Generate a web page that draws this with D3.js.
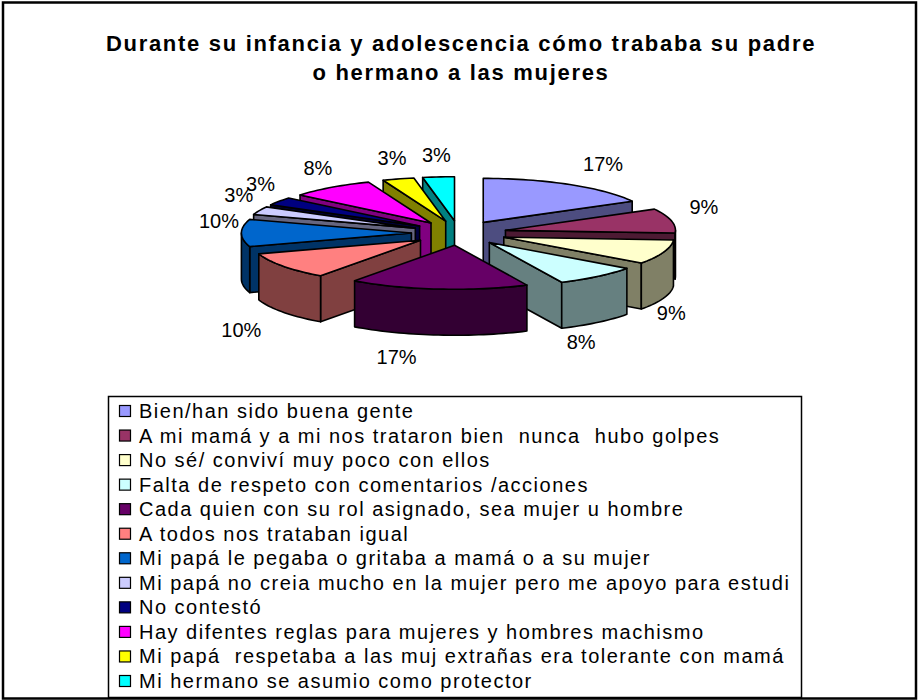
<!DOCTYPE html>
<html lang="es">
<head>
<meta charset="utf-8" />
<title>Durante su infancia y adolescencia</title>
<script src="https://d3js.org/d3.v7.min.js"></script>
<style>
  body { margin: 0; background: #fff; }
  text { font-family: "Liberation Sans", Arial, sans-serif; }
</style>
</head>
<body>
<script>
    // datos del grafico
    var categories = [
        "Bien/han sido buena gente",
        "A mi mamá y a mi nos trataron bien  nunca  hubo golpes",
        "No sé/ conviví muy poco con ellos",
        "Falta de respeto con comentarios /acciones",
        "Cada quien con su rol asignado, sea mujer u hombre",
        "A todos nos trataban igual",
        "Mi papá le pegaba o gritaba a mamá o a su mujer",
        "Mi papá no creia mucho en la mujer pero me apoyo para estudi",
        "No contestó",
        "Hay difentes reglas para mujeres y hombres machismo",
        "Mi papá  respetaba a las muj extrañas era tolerante con mamá",
        "Mi hermano se asumio como protector"
    ];
    var values = [17, 9, 9, 8, 17, 10, 10, 3, 3, 8, 3, 3];
    var colors = ["#9999FF", "#993366", "#FFFFCC", "#CCFFFF", "#660066", "#FF8080",
                  "#0066CC", "#CCCCFF", "#000080", "#FF00FF", "#FFFF00", "#00FFFF"];
    var titleLines = ["Durante su infancia y adolescencia cómo trababa su padre",
                      "o hermano a las mujeres"];

    var width = 918, height = 700;
    var svg = d3.select("body").append("svg")
        .attr("width", width)
        .attr("height", height);

    // marco exterior
    svg.append("rect")
        .attr("x", 3).attr("y", 2.5)
        .attr("width", 913).attr("height", 696)
        .attr("fill", "#fff").attr("stroke", "#000").attr("stroke-width", 2.5);

    // titulo
    svg.append("text")
        .attr("text-anchor", "middle")
        .attr("font-weight", "bold")
        .attr("font-size", 22)
        .attr("letter-spacing", 1.7)
        .selectAll("tspan")
        .data(titleLines)
        .enter().append("tspan")
        .attr("x", 461)
        .attr("y", function (d, i) { return 51 + i * 29; })
        .text(function (d) { return d; });

    //====== pastel 3D separado ======
    var cx = 459, cy = 233, rx = 170, ry = 44, depth = 46, explode = 0.28;

    var pie = d3.pie().sort(null).value(function (d) { return d; });
    var arcs = pie(values);
    arcs.forEach(function (a, i) {
        a.mid = (a.startAngle + a.endAngle) / 2;
        a.ox = cx + rx * explode * Math.sin(a.mid);
        a.oy = cy - ry * explode * Math.cos(a.mid);
        a.color = colors[i];
        var c = d3.rgb(colors[i]);
        a.side = d3.rgb(c.r * 0.5, c.g * 0.5, c.b * 0.5).toString();
    });

    function rim(a, ang, dy) {
        return [a.ox + rx * Math.sin(ang), a.oy - ry * Math.cos(ang) + (dy || 0)];
    }
    function arcPts(a, a0, a1, dy) {
        var n = Math.max(2, Math.ceil(Math.abs(a1 - a0) / 0.03));
        return d3.range(n + 1).map(function (k) { return rim(a, a0 + (a1 - a0) * k / n, dy); });
    }
    var line = d3.line().curve(d3.curveLinearClosed);

    var gPie = svg.append("g")
        .attr("stroke", "#000")
        .attr("stroke-width", 1.6)
        .attr("stroke-linejoin", "round");

    // de atras hacia adelante
    var order = arcs.slice().sort(function (a, b) { return Math.cos(b.mid) - Math.cos(a.mid); });

    order.forEach(function (a) {
        var g = gPie.append("g");
        var apex = [a.ox, a.oy], apexB = [a.ox, a.oy + depth];
        // cara radial inicial
        if (Math.sin(a.startAngle) < -1e-6) {
            g.append("path").attr("fill", a.side)
                .attr("d", line([apex, rim(a, a.startAngle), rim(a, a.startAngle, depth), apexB]));
        }
        // cara radial final
        if (Math.sin(a.endAngle) > 1e-6) {
            g.append("path").attr("fill", a.side)
                .attr("d", line([apex, rim(a, a.endAngle), rim(a, a.endAngle, depth), apexB]));
        }
        // pared exterior visible
        var b0 = Math.max(a.startAngle, Math.PI / 2), b1 = Math.min(a.endAngle, Math.PI * 1.5);
        if (b1 > b0) {
            var pts = arcPts(a, b0, b1, 0).concat(arcPts(a, b1, b0, depth));
            g.append("path").attr("fill", a.side).attr("d", line(pts));
        }
        // cara superior
        g.append("path").attr("fill", a.color)
            .attr("d", line([apex].concat(arcPts(a, a.startAngle, a.endAngle, 0))));
    });

    // etiquetas de porcentaje
    var Lx = 240, Ly = 66, Ld = 70;
    svg.append("g")
        .attr("font-size", 20)
        .attr("text-anchor", "middle")
        .selectAll("text")
        .data(arcs)
        .enter().append("text")
        .attr("x", function (a) {
            var s = Math.sin(a.mid), c = Math.cos(a.mid);
            return cx + Lx * s + 50 * Math.max(0, s) * Math.max(0, c) + 40 * Math.min(0, c);
        })
        .attr("y", function (a) {
            var c = Math.cos(a.mid);
            var front = Math.max(0, Math.min(1, -c * 3));
            return cy - 5 - Ly * c + Ld * front;
        })
        .text(function (a) { return a.data + "%"; });

    //====== leyenda ======
    var legend = svg.append("g");
    legend.append("rect")
        .attr("x", 108.5).attr("y", 396.5)
        .attr("width", 693).attr("height", 301)
        .attr("fill", "#fff").attr("stroke", "#000").attr("stroke-width", 1.5);

    var rowY = d3.scaleLinear().domain([0, categories.length - 1]).range([411, 681]);
    var items = legend.selectAll("g.item")
        .data(categories)
        .enter().append("g")
        .attr("class", "item")
        .attr("transform", function (d, i) { return "translate(0," + rowY(i) + ")"; });

    items.append("rect")
        .attr("x", 119.5).attr("y", -5.5)
        .attr("width", 11).attr("height", 11)
        .attr("fill", function (d, i) { return colors[i]; })
        .attr("stroke", "#000").attr("stroke-width", 1.2);

    items.append("text")
        .attr("x", 139).attr("y", 7)
        .attr("font-size", 20)
        .attr("letter-spacing", 1.5)
        .style("white-space", "pre")
        .text(function (d) { return d; });
</script>
</body>
</html>
